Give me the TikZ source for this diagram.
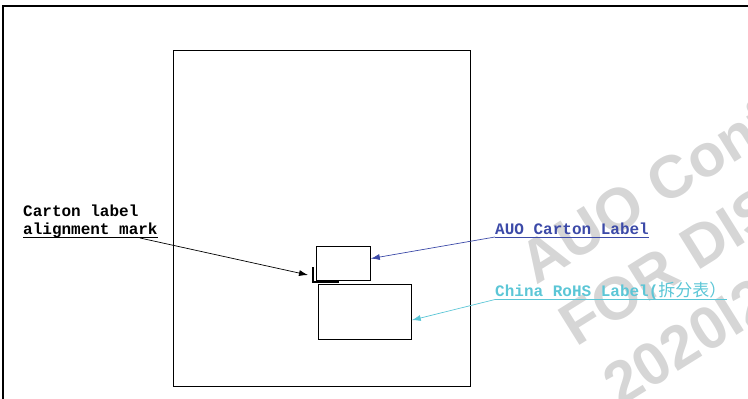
\documentclass[tikz,border=0pt]{standalone}
\usepackage{fontspec}
\setmonofont{Liberation Mono}
\newfontfamily\cjkfont{Noto Sans CJK SC}
\newfontfamily\wmfont{Liberation Sans}
\usetikzlibrary{arrows.meta}
\definecolor{auoblue}{HTML}{3C4AA8}
\definecolor{rohscyan}{HTML}{5CC6D6}
\definecolor{wmgray}{HTML}{D6D6D6}
\tikzset{
  labeltext/.style={anchor=base west,inner sep=0pt,font=\ttfamily\bfseries\fontsize{16}{19}\selectfont},
  watermark/.style={anchor=base west,inner sep=0pt,rotate=32,text=wmgray,font=\wmfont\bfseries\fontsize{60}{62}\selectfont},
  labelbox/.style={draw,line width=0.8pt,inner sep=0pt,anchor=north west},
  pointer/.style={-{Latex[length=9pt,width=6pt]},line width=0.7pt},
}
\begin{document}
\begin{tikzpicture}[x=1pt,y=-1pt] % carton with labels
        \useasboundingbox (0,0) rectangle (748,399);
        \clip (0,0) rectangle (748,399);
        % watermark
        \node[watermark] (wm1) at (536,286) {AUO Conf};
        \node[watermark] (wm2) at (576,348) {FOR DISC};
        \node[watermark] (wm3) at (620,408) {2020I2};
        % frame and carton
        \draw[line width=1.6pt] (3,399) -- (3,6) -- (748,6);
        \draw[line width=0.8pt] (173,50) rectangle (470,386);
        \node[labelbox,minimum width=54pt,minimum height=34pt] (auobox) at (316,246) {};
        \node[labelbox,minimum width=93pt,minimum height=55pt] (rohsbox) at (318,284) {};
        \draw[line width=1.8pt] (313,267) -- (313,282) -- (339,282);
        % texts
        \node[labeltext] (mark1) at (23,216) {Carton label};
        \node[labeltext] (mark2) at (23,234) {alignment mark};
        \node[labeltext,text=auoblue] (auo) at (495,234) {AUO Carton Label};
        \node[labeltext,text=rohscyan] (rohs) at (495,296) {China RoHS Label({\cjkfont\mdseries\fontsize{17}{19}\selectfont 拆分表）}};
        \draw[line width=0.7pt] ([yshift=-3.5pt]mark2.base west) -- ([yshift=-3.5pt]mark2.base east);
        \draw[line width=0.7pt,auoblue] ([yshift=-3pt]auo.base west) -- ([yshift=-3pt]auo.base east);
        \draw[line width=0.7pt,rohscyan] ([yshift=-3.5pt]rohs.base west) -- ([yshift=-3.5pt]rohs.base east);
        % pointers
        \coordinate (markfoot) at (140,238);
        \coordinate (marktip) at (308,275);
        \draw[pointer] (markfoot) -- (marktip);
        \draw[pointer,auoblue] ([yshift=-3pt]auo.base west) -- (auobox.10);
        \draw[pointer,rohscyan] ([yshift=-3.5pt]rohs.base west) -- (rohsbox.-10);
\end{tikzpicture}
\end{document}
